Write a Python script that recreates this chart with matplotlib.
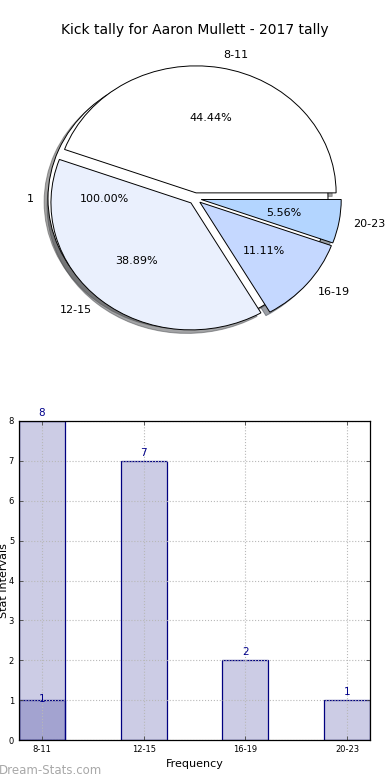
import matplotlib
matplotlib.use('Agg')
import matplotlib.pyplot as plt
import numpy as np

# data
title = 'Kick tally for Aaron Mullett - 2017 tally'
intervals = ['8-11', '12-15', '16-19', '20-23']
counts = [8, 7, 2, 1]
extra_label = ['1']
extra_count = [1]
pie_colors = ['#ffffff', '#eaf0fd', '#c5d8ff', '#b3d5ff']

plt.rcParams['font.family'] = 'DejaVu Sans'

fig = plt.figure(figsize=(3.9, 7.8), dpi=100)
fig.patch.set_facecolor('white')

# ---- pie (top) ----
ax1 = fig.add_axes([20 / 390, 1 - (39.75 + 317.5) / 780, 350 / 390, 317.5 / 780])
wedge_props = {'edgecolor': 'black', 'linewidth': 0.7}
ax1.pie(extra_count, labels=extra_label, explode=[0.05], colors=['white'],
        autopct='%1.2f%%', shadow=True, wedgeprops=wedge_props,
        textprops={'fontsize': 8})
ax1.pie(counts, labels=intervals, explode=[0.045] * 4, colors=pie_colors,
        autopct='%1.2f%%', shadow=True, wedgeprops=wedge_props,
        textprops={'fontsize': 8})
ax1.set_aspect('auto')
ax1.set_xlim(-1.25, 1.25)
ax1.set_ylim(-1.25, 1.25)
ax1.axis('off')
fig.text(0.5, 1 - 30 / 780, title, ha='center', va='center', fontsize=10)

# ---- bars (bottom) ----
ax2 = fig.add_axes([19 / 390, 40 / 780, 351 / 390, 319 / 780])
x = np.arange(len(intervals))
w = 0.45
ax2.bar(x, counts, w, color=(0, 0, 0.5, 0.2), edgecolor='navy', linewidth=0.9)
ax2.bar(x[:1], extra_count, w, color=(0, 0, 0.5, 0.2), edgecolor='navy', linewidth=0.9)
for xi, c in zip(x, counts):
    ax2.text(xi, c + 0.07, str(c), ha='center', va='bottom', color='darkblue', fontsize=7.5)
for xi, c in zip(x[:1], extra_count):
    ax2.text(xi, c + 0.02, str(c), ha='center', va='center', color='darkblue', fontsize=7.5)

ax2.set_xlim(-w / 2, len(intervals) - 1 + w / 2)
ax2.set_ylim(0, 8)
ax2.set_xticks(x)
ax2.set_xticklabels(intervals)
ax2.set_yticks(range(0, 9))
ax2.tick_params(direction='in', top=True, right=True, labelsize=6, length=3, width=0.6,
                colors='#444444', labelcolor='black')
ax2.grid(True, linestyle=':', color='#b8b8b8', linewidth=0.8)
ax2.set_axisbelow(False)
ax2.set_xlabel('Frequency', fontsize=8, labelpad=4)
ax2.set_ylabel('Stat Intervals', fontsize=8)
ax2.yaxis.set_label_coords(-0.028, 0.5)
for s in ax2.spines.values():
    s.set_linewidth(0.9)
    s.set_zorder(3)

fig.text(-0.002, 1 - 770 / 780, 'Dream-Stats.com', ha='left', va='center',
         fontsize=8.5, color='#a8a8a8')

fig.savefig('out.png', dpi=100, facecolor='white')
